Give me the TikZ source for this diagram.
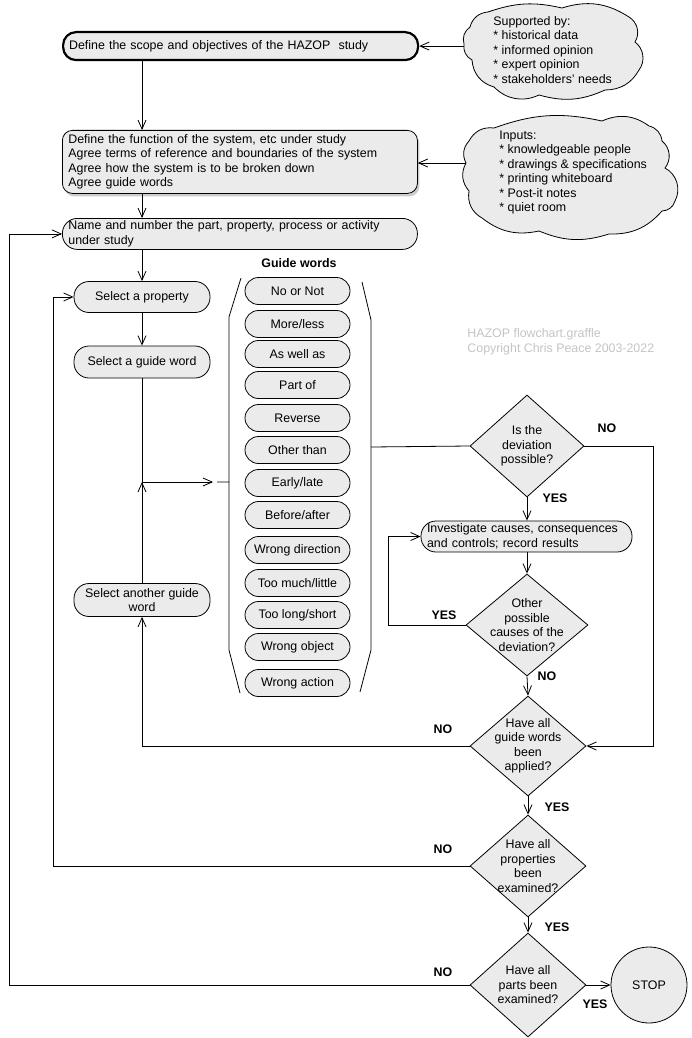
\documentclass[tikz,border=0pt]{standalone}
\usepackage{fontspec}
\setmainfont{Liberation Sans}
\usetikzlibrary{shapes.geometric,arrows.meta,shadows}
\definecolor{boxgray}{HTML}{EBEBEB}
\definecolor{markgray}{HTML}{C4C4C4}
\newcommand\flowfont{\fontsize{12.4}{14.5}\selectfont}

\tikzset{
  pill/.style={draw, fill=boxgray, rounded corners=15pt, inner sep=0pt, align=center,
    minimum width=136pt, minimum height=32pt},
  wide/.style={draw, fill=boxgray, rounded corners=13pt, inner sep=0pt, align=left,
    text width=343pt, minimum width=355pt, anchor=north west},
  gword/.style={draw, fill=boxgray, rounded corners=13.5pt, inner sep=0pt,
    minimum width=105pt, minimum height=27pt},
  decide/.style={diamond, draw, fill=boxgray, inner sep=0pt, aspect=1},
  puffline/.style={draw, fill=boxgray, bend left=35},
  yesno/.style={font=\flowfont\bfseries},
}

\begin{document}
\begin{tikzpicture}[x=1pt, y=-1pt, >={Straight Barb[length=9pt,width=8pt]}, line width=0.8pt, font=\flowfont]
\useasboundingbox (0,0) rectangle (692,1038);
% loop-back columns
\coordinate (loopa) at (9,0);
\coordinate (loopb) at (53,0);
\coordinate (loope) at (388,0);
\coordinate (loopd) at (653,0);
% top of the study
\node[wide, minimum height=28pt, line width=2.2pt] (scope) at (62,31) {Define the scope and objectives of the HAZOP\ \ study};
\node[wide, minimum height=63pt, rounded corners=10pt,
  drop shadow={shadow xshift=2pt, shadow yshift=-3pt, fill=black!40}] (terms) at (62,130)
  {Define the function of the system, etc under study\\
   Agree terms of reference and boundaries of the system\\
   Agree how the system is to be broken down\\
   Agree guide words};
\node[wide, minimum height=31pt, rounded corners=15pt] (part) at (62,218)
  {Name and number the part, property, process or activity\\ under study};
% clouds
\coordinate (suppin) at (464,44);
\path[puffline] (suppin) to (470,27) to (488,12) to[bend left=16] (562,8) to[bend left=25] (629,17)
  to[bend left=45] (635,42) to[bend left=45] (639,70) to[bend left=30] (605,90) to[bend left=20] (539,95)
  to (494,87) to (472,60) to (suppin);
\node[anchor=west, inner sep=0pt, align=left] (supptxt) at (493,50)
  {Supported by:\\ * historical data\\ * informed opinion\\ * expert opinion\\ * stakeholders' needs};
\coordinate (inputin) at (466,163);
\path[puffline] (inputin) to (469,141) to (494,128) to[bend left=16] (602,121) to[bend left=30] (649,126)
  to (662,141) to[bend left=45] (665,168) to[bend left=45] (675,201) to (662,211)
  to[bend left=25] (609,234) to[bend left=20] (539,231) to[bend left=25] (482,218) to (469,191) to (inputin);
\node[anchor=west, inner sep=0pt, align=left] (inputstxt) at (499,172.5)
  {Inputs:\\ * knowledgeable people\\ * drawings \& specifications\\ * printing whiteboard\\ * Post-it notes\\ * quiet room};
\draw[<-] (scope.east) -- (scope.east -| suppin);
\draw[<-] (terms.east |- inputin) -- (inputin);
% watermark
\node[anchor=west, inner sep=0pt, align=left, text=markgray] (mark) at (467,342)
  {HAZOP flowchart.graffle\\ Copyright Chris Peace 2003-2022};
% left column
\node[pill, minimum height=31pt] (prop) at (142,297) {Select a property};
\node[pill] (sgw) at (142,362) {Select a guide word};
\node[pill, minimum height=33pt] (sagw) at (142,600) {Select another guide\\ word};
\draw[->] (scope.south -| prop) -- (terms.north -| prop);
\draw[->] (terms.south -| prop) -- (part.north -| prop);
\draw[->] (part.south -| prop) -- (prop);
\draw[->] (prop) -- (sgw);
\coordinate (jct) at (142,482);
\draw (sgw) -- (jct);
\draw[->] (sagw) -- (jct);
% guide words
\node[yesno] (gwhead) at (299,263) {Guide words};
\foreach \gw/\y [count=\i] in {{No or Not}/291, {More/less}/324, {As well as}/354, {Part of}/385,
    {Reverse}/418, {Other than}/450, {Early/late}/483, {Before/after}/515, {Wrong direction}/550,
    {Too much/little}/583, {Too long/short}/615, {Wrong object}/647, {Wrong action}/683}
  \node[gword] (gw\i) at (297.5,\y) {\gw};
% brackets round the guide words
\coordinate (lnib) at (217,482);
\coordinate (rnib) at (371,447);
\draw (241,278) -- (229,317) -- (229,482) -- (lnib);
\draw (229,482) -- (229,650) -- (240,693);
\draw (362,282) -- (371,320) -- (rnib) -- (371,650) -- (360,692);
\draw[->, shorten >=4pt] (jct) -- (lnib);
% decisions
\node[decide, minimum width=114pt, minimum height=102pt,
  label={[align=center]center:Is the\\ deviation\\ possible?}] (dev) at (527,446) {};
\node[pill, wide, anchor=center, text width=199pt, minimum width=211pt, minimum height=31pt,
  rounded corners=15pt] (inv) at (526.5,536.5)
  {Investigate causes, consequences\\ and controls; record results};
\node[decide, minimum width=122pt, minimum height=102pt,
  label={[align=center]center:Other\\ possible\\ causes of the\\ deviation?}] (other) at (527,625) {};
\node[decide, minimum width=116pt, minimum height=100pt,
  label={[align=center]center:Have all\\ guide words\\ been\\ applied?}] (allgw) at (528,746) {};
\node[decide, minimum width=116pt, minimum height=102pt,
  label={[align=center]center:Have all\\ properties\\ been\\ examined?}] (allprop) at (528,866) {};
\node[decide, minimum width=116pt, minimum height=104pt,
  label={[align=center]center:Have all\\ parts been\\ examined?}] (allparts) at (528,985) {};
\node[circle, draw, fill=boxgray, minimum size=76pt, inner sep=0pt] (stop) at (649,985) {STOP};
% connectors
\draw (rnib) -- (dev.west);
\draw[->] (dev.south) -- (inv.north -| dev.south);
\draw[->] (inv.south -| other.north) -- (other.north);
\draw[->] (other.west) -- (other.west -| loope) |- (inv.west);
\draw[->] (other.south) -- (allgw.north);
\draw[->] (dev.east) -- (dev.east -| loopd) |- (allgw.east);
\draw[->] (allgw.west) -| (sagw.south);
\draw[->] (allgw.south) -- (allprop.north);
\draw[->] (allprop.west) -- (allprop.west -| loopb) |- (prop.west);
\draw[->] (allprop.south) -- (allparts.north);
\draw[->] (allparts.west) -- (allparts.west -| loopa) |- (part.west);
\draw[->] (allparts.east) -- (stop.west);
% YES / NO
\node[yesno] (yes1) at (555,498) {YES};
\node[yesno] (no1) at (607,428) {NO};
\node[yesno] (yes2) at (444,615) {YES};
\node[yesno] (no2) at (547,676) {NO};
\node[yesno] (no3) at (443,729) {NO};
\node[yesno] (yes3) at (557,807) {YES};
\node[yesno] (no4) at (443,849) {NO};
\node[yesno] (yes4) at (557,927) {YES};
\node[yesno] (no5) at (443,972) {NO};
\node[yesno] (yes5) at (595,1004) {YES};
\end{tikzpicture}
\end{document}
